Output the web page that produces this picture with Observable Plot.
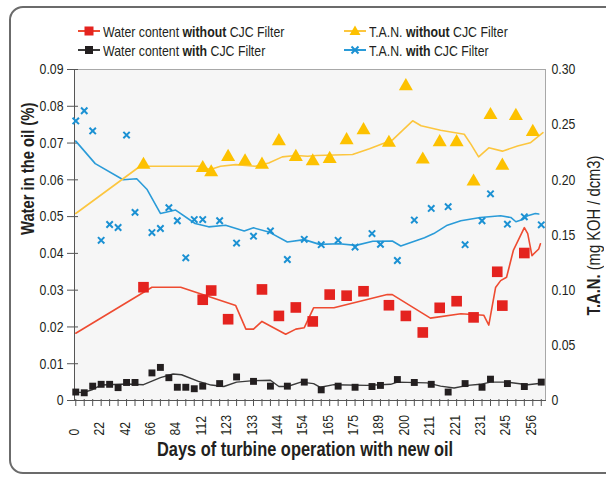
<!DOCTYPE html>
<html><head><meta charset="utf-8">
<script src="https://cdn.jsdelivr.net/npm/d3@7"></script>
<script src="https://cdn.jsdelivr.net/npm/@observablehq/plot@0.6"></script>
<style>
body{margin:0;background:#fff;font-family:"Liberation Sans",Arial,sans-serif;}
#wrap{position:relative;width:606px;height:477px;overflow:hidden;}
#box{position:absolute;left:9px;top:6px;width:660px;height:464px;border:2px solid #6b6b6b;border-radius:14px;pointer-events:none;}
#legend{position:relative;height:60px;}
.item{position:absolute;height:18px;font-size:15px;color:#231f20;display:flex;align-items:center;white-space:nowrap;}
.item svg{margin-right:2px;flex:none;}
.narrow{display:inline-block;transform:scaleX(0.82);transform-origin:0 50%;}
#rtitle{position:absolute;left:494px;top:225px;width:200px;height:20px;line-height:20px;text-align:center;font-size:18px;color:#231f20;transform:rotate(-90deg);white-space:nowrap;}
#rtitle .narrowc{display:inline-block;transform:scaleX(0.82);transform-origin:50% 50%;}
#chart{position:absolute;left:0;top:60px;}
</style></head>
<body>
<div id="wrap">
  <div id="box"></div>
  <div id="legend"></div>
  <div id="chart"></div>
  <div id="rtitle"><span class="narrowc"><b>T.A.N.</b> (mg KOH / dcm3)</span></div>
</div>
<script>
// ---- data ----
const days = ["0","22","42","66","84","112","123","133","144","154","165","175","189","200","211","221","231","245","256"];
const dayIdx = [0,3,6,9,12,15,18,21,24,27,30,33,36,39,42,45,48,51,54];
const leftTicks = [0,0.01,0.02,0.03,0.04,0.05,0.06,0.07,0.08,0.09];
const rightTicks = [0,0.05,0.10,0.15,0.20,0.25,0.30];

// samples with CJC filter (category index)
const withIdx = [0,1,2,3,4,5,6,7,9,10,11,12,13,14,15,17,19,21,23,25,27,29,31,33,35,36,38,40,42,44,46,48,49,51,53,55];
const waterWith = [0.0023,0.0021,0.0039,0.0044,0.0044,0.0035,0.0049,0.0049,0.0075,0.009,0.0062,0.0036,0.0036,0.0032,0.0039,0.0046,0.0064,0.0052,0.0039,0.0039,0.005,0.0029,0.0039,0.0036,0.0038,0.0041,0.0057,0.0049,0.0044,0.0023,0.0046,0.0036,0.0058,0.0046,0.0038,0.005];
const tanWith = [0.2534,0.2626,0.2443,0.1452,0.1595,0.1568,0.2406,0.1705,0.1522,0.1559,0.1748,0.1629,0.1293,0.164,0.164,0.1629,0.1427,0.1489,0.1537,0.1278,0.1461,0.1412,0.1452,0.1391,0.1513,0.1415,0.1269,0.1635,0.1741,0.1757,0.1412,0.1629,0.1873,0.1598,0.1665,0.1592];

// samples without CJC filter
const waterWithoutIdx = [8,15,16,18,22,24,26,28,30,32,34,37,39,41,43,45,47,49.8,50.4,53];
const waterWithout = [0.0308,0.0274,0.0299,0.0221,0.0302,0.023,0.0253,0.0215,0.0288,0.0285,0.0297,0.0259,0.023,0.0185,0.0252,0.027,0.0226,0.035,0.0258,0.0401];
const tanWithoutIdx = [8,15,16,18,20,22,24,26,28,30,32,34,37,39,41,43,45,47,49,50.4,52,54];
const tanWithout = [0.2137,0.2107,0.2068,0.2208,0.2168,0.2138,0.2351,0.2208,0.2168,0.219,0.236,0.245,0.2336,0.2849,0.2184,0.2342,0.2342,0.1985,0.2587,0.2129,0.258,0.2434];

// trend lines
const waterWithoutTrendX = [0,9,12.4,18.9,20.1,21,22,24.8,26,27,28.1,30.5,36.8,37.4,41.9,45.5,48.2,48.8,49.6,50.2,50.9,51.7,53,53.4,53.9,54.7,54.9];
const waterWithoutTrendY = [0.0183,0.0308,0.0308,0.0258,0.0194,0.0194,0.0215,0.018,0.0194,0.0198,0.0252,0.0252,0.0288,0.0288,0.0224,0.0236,0.0232,0.0205,0.0307,0.0326,0.0335,0.0408,0.047,0.0454,0.0394,0.0412,0.0426];
const waterWithTrendX = [0,1,2,3,6,8,10,11.5,12.5,14.5,16,17.5,19,21,23,24,25,26.6,28.1,28.9,30.5,34.4,37.2,38,41.5,43.1,44.7,46.3,47.8,49,51,53.4,55];
const waterWithTrendY = [0.0022,0.0022,0.003,0.0042,0.0045,0.0043,0.0062,0.0072,0.007,0.0052,0.0042,0.0038,0.005,0.0054,0.0055,0.0038,0.0038,0.005,0.0046,0.0036,0.0043,0.0041,0.0044,0.005,0.0048,0.0039,0.0034,0.0041,0.0044,0.005,0.005,0.0043,0.0047];
const tanWithoutTrendX = [0,7.6,14.7,15.9,17.1,18.9,21.2,22.8,24.4,26,27.4,28.4,32.7,34.7,37.4,39.8,40.8,43.1,45.9,46.7,47.6,48.8,50.4,52.2,53.7,55.2];
const tanWithoutTrendY = [0.1695,0.2123,0.2123,0.2093,0.2123,0.2138,0.2123,0.2153,0.2208,0.222,0.2214,0.222,0.223,0.2281,0.236,0.2535,0.249,0.245,0.2413,0.2321,0.2208,0.229,0.226,0.2306,0.2336,0.2427];
const tanWithTrendX = [0,2.3,5.6,7.2,8.4,10,11.8,14.1,15.7,17.7,19.9,21,22.8,25,27,28.8,31.1,33.1,35.1,37.4,38.4,41.2,42.3,43.9,45.5,47.8,50.2,51.4,52,52.8,53.4,54.3,54.7];
const tanWithTrendY = [0.2351,0.2147,0.2001,0.201,0.1915,0.1695,0.1726,0.1604,0.1574,0.1589,0.1537,0.1565,0.1528,0.1437,0.1458,0.1415,0.1421,0.1406,0.1443,0.1446,0.14,0.1476,0.1513,0.1589,0.1629,0.1659,0.1675,0.1659,0.162,0.164,0.1675,0.1695,0.169];

// ---- colours ----
const RED = "#e4231f", RED_LINE = "#ee4b31", BLACK = "#231f20", BLACK_LINE = "#3a3a3a";
const YEL = "#fdc100", YEL_LINE = "#fcc63f", BLUE = "#1b91d3", BLUE_LINE = "#2a9bd8";
const FONT = '"Liberation Sans",Arial,sans-serif';

// TAN (right axis 0–0.30) mapped onto the water scale (0–0.09)
const tanScale = 0.09 / 0.30;
const fmt = d => (Math.abs(d) < 1e-9 ? "0" : d.toFixed(2));
const pts = (xs, ys, k = 1) => xs.map((x, i) => ({x, y: ys[i] * k}));

const X0 = -0.15, X1 = 55.5;

const chart = Plot.plot({
  width: 606, height: 417,
  marginTop: 9, marginBottom: 77, marginLeft: 74, marginRight: 61,
  x: {domain: [X0, X1], axis: null},
  y: {domain: [0, 0.09], axis: null},
  style: {fontFamily: FONT, fontSize: "15px", color: BLACK, background: "transparent", overflow: "visible"},
  marks: [
    Plot.frame({fill: "#f6f6f6", stroke: "#a8a8a8"}),
    Plot.frame({anchor: "left", stroke: "#555"}),
    Plot.frame({anchor: "bottom", stroke: "#555"}),
    Plot.axisY(leftTicks, {tickSize: 11, dx: 4, text: null, label: null, stroke: "#555"}),
    Plot.axisY(leftTicks, {tickSize: 0, tickPadding: 11, tickFormat: fmt, label: null, fontSize: 15}),
    Plot.axisY(rightTicks.map(v => v * tanScale), {anchor: "right", tickSize: 0, tickPadding: 6, label: null, tickFormat: d => fmt(d / tanScale), fontSize: 15}),
    Plot.axisX(d3.range(0, 56), {tickSize: 7, dy: -1, text: null, label: null, stroke: "#555"}),
    Plot.text(days, {x: (d, i) => dayIdx[i], text: d => d, frameAnchor: "bottom", rotate: -90, textAnchor: "start", dx: 3, dy: 35, fontSize: 15, fill: BLACK}),
    Plot.text(["Water in the oil (%)"], {frameAnchor: "left", rotate: -90, dx: -46, dy: 0, fontSize: 18, fontWeight: "bold", fill: BLACK}),
    Plot.text(["Days of turbine operation with new oil"], {frameAnchor: "bottom", dx: -5, dy: 55, fontSize: 20, fontWeight: "bold", fill: BLACK}),
    // TAN with CJC
    Plot.line(pts(tanWithTrendX, tanWithTrendY, tanScale), {x: "x", y: "y", stroke: BLUE_LINE, strokeWidth: 1.6}),
    Plot.dot(pts(withIdx, tanWith, tanScale), {x: "x", y: "y", symbol: "times", r: 3, stroke: BLUE, strokeWidth: 2}),
    // TAN without CJC
    Plot.line(pts(tanWithoutTrendX, tanWithoutTrendY, tanScale), {x: "x", y: "y", stroke: YEL_LINE, strokeWidth: 1.6}),
    Plot.dot(pts(tanWithoutIdx, tanWithout, tanScale), {x: "x", y: "y", symbol: "triangle", r: 5.2, fill: YEL}),
    // water without CJC
    Plot.line(pts(waterWithoutTrendX, waterWithoutTrendY), {x: "x", y: "y", stroke: RED_LINE, strokeWidth: 1.6}),
    Plot.dot(pts(waterWithoutIdx, waterWithout), {x: "x", y: "y", symbol: "square", r: 6, fill: RED}),
    // water with CJC
    Plot.line(pts(waterWithTrendX, waterWithTrendY), {x: "x", y: "y", stroke: BLACK_LINE, strokeWidth: 1.4}),
    Plot.dot(pts(withIdx, waterWith), {x: "x", y: "y", symbol: "square", r: 3.9, fill: BLACK})
  ]
});
document.getElementById("chart").appendChild(chart);

// condensed look: compress every SVG text along its own direction (Arial -> Arial Narrow width)
chart.querySelectorAll("text").forEach(t => {
  const L = t.getComputedTextLength();
  if (L > 0) {
    t.setAttribute("textLength", (L * 0.82).toFixed(2));
    t.setAttribute("lengthAdjust", "spacingAndGlyphs");
  }
});

// ---- legend ----
const legendItems = [
  {left: 77, top: 22, color: RED_LINE, mark: "square", fill: RED, pre: "Water content ", bold: "without", post: " CJC Filter"},
  {left: 77, top: 41, color: BLACK_LINE, mark: "smallsquare", fill: BLACK, pre: "Water content ", bold: "with", post: " CJC Filter"},
  {left: 343, top: 22, color: YEL_LINE, mark: "triangle", fill: YEL, pre: "T.A.N. ", bold: "without", post: " CJC Filter"},
  {left: 343, top: 41, color: BLUE_LINE, mark: "times", fill: BLUE, pre: "T.A.N. ", bold: "with", post: " CJC Filter"}
];
const legend = d3.select("#legend");
for (const it of legendItems) {
  const div = legend.append("div").attr("class", "item").style("left", it.left + "px").style("top", it.top + "px");
  const s = div.append("svg").attr("width", 24).attr("height", 18);
  s.append("line").attr("x1", 1).attr("x2", 23).attr("y1", 9).attr("y2", 9).attr("stroke", it.color).attr("stroke-width", 2);
  if (it.mark === "square") s.append("rect").attr("x", 7.5).attr("y", 4.5).attr("width", 9).attr("height", 9).attr("fill", it.fill);
  if (it.mark === "smallsquare") s.append("rect").attr("x", 8).attr("y", 5).attr("width", 8).attr("height", 8).attr("fill", it.fill);
  if (it.mark === "triangle") s.append("path").attr("d", "M12,3.5L17.5,13L6.5,13Z").attr("fill", it.fill);
  if (it.mark === "times") s.append("path").attr("d", "M8.5,5.5L15.5,12.5M15.5,5.5L8.5,12.5").attr("stroke", it.fill).attr("stroke-width", 2);
  const t = div.append("span").attr("class", "narrow");
  t.append("span").text(it.pre);
  t.append("b").text(it.bold);
  t.append("span").text(it.post);
}
</script>
</body></html>
